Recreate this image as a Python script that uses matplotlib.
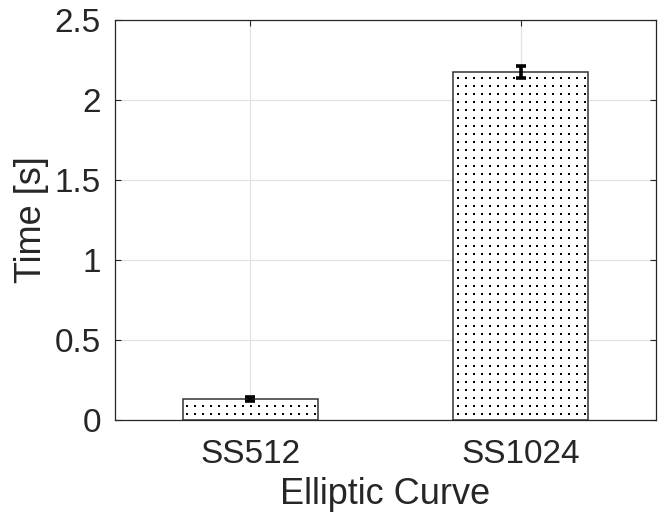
import numpy as np
import matplotlib
matplotlib.use("Agg")
import matplotlib.pyplot as plt

curves = ["SS512", "SS1024"]
times = [0.13, 2.175]
time_err = [0.012, 0.04]

y_ticks = [0, 0.5, 1, 1.5, 2, 2.5]
y_tick_labels = ["0", "0.5", "1", "1.5", "2", "2.5"]

plt.rcParams["font.family"] = ["Liberation Sans", "DejaVu Sans"]
TXT = "#262626"

fig = plt.figure(figsize=(6.61, 5.21), dpi=100)
ax = fig.add_axes([115 / 661, 101 / 521, 541 / 661, 400 / 521])

x = np.arange(1, len(curves) + 1)
width = 0.5
bars = ax.bar(x, times, width=width, color="white", edgecolor="#333333",
              linewidth=1.1, zorder=2)

# dotted fill (MATLAB hatchfill look), clipped to each bar
dx = width / 17
dy = 0.05
for xi, h, rect in zip(x, times, bars):
    xs = np.arange(xi - width / 2 + dx * 0.6, xi + width / 2, dx)
    ys = np.arange(0.035, h, dy)
    gx, gy = np.meshgrid(xs, ys)
    sc = ax.scatter(gx.ravel(), gy.ravel(), s=4.5, marker="s", color="black",
                    linewidths=0, zorder=3)
    sc.set_clip_path(rect)

ax.errorbar(x, times, yerr=time_err, fmt="none", ecolor="black",
            elinewidth=2.6, capsize=3.6, capthick=2.6, zorder=4)

ax.set_xlim(0.5, 2.5)
ax.set_ylim(0, 2.5)
ax.set_xticks(x)
ax.set_xticklabels(curves)
ax.set_yticks(y_ticks)
ax.set_yticklabels(y_tick_labels)

ax.set_axisbelow(True)
ax.grid(True, color="#e3e3e3", linewidth=0.9)
for sp in ax.spines.values():
    sp.set_color(TXT)
    sp.set_linewidth(0.9)
ax.tick_params(direction="in", length=4, width=0.8, colors=TXT,
               labelsize=24, top=True, right=True)
ax.tick_params(axis="y", pad=10)
ax.tick_params(axis="x", pad=14)
ax.set_xlabel("Elliptic Curve", fontsize=26, color=TXT, labelpad=5)
ax.set_ylabel("Time [s]", fontsize=26, color=TXT, labelpad=4)

fig.savefig("out.png", dpi=100)
